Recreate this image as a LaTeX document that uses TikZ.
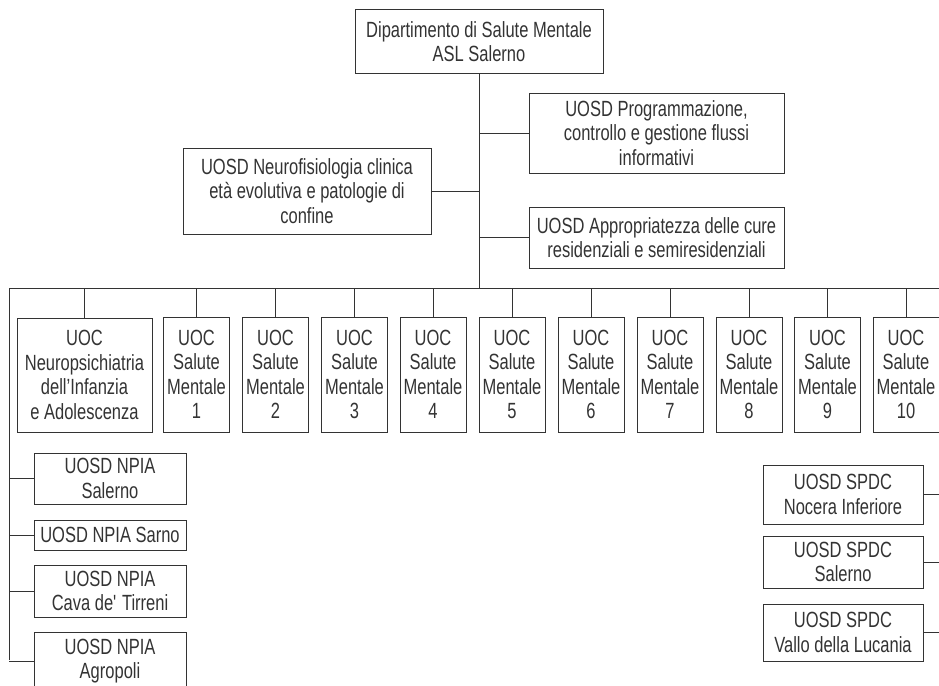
\documentclass[tikz,border=0pt]{standalone}
\usepackage{fontspec}
\setmainfont[FakeStretch=0.75]{Liberation Sans}
\usepackage{xcolor}
\usepackage{tikz}
\definecolor{ln}{HTML}{333333}

\begin{document}
\begin{tikzpicture}[x=1pt,y=-1pt]
\tikzstyle{every node}+=[inner sep=0pt]
\tikzstyle{box}=[draw=ln, line width=1pt, align=center, text=ln, font=\fontsize{22}{24.5}\selectfont]
\tikzstyle{smbox}=[box, minimum width=66, minimum height=115]
\useasboundingbox (0,0) rectangle (939,685);
\clip (0,0) rectangle (939,685);
\node [box, minimum width=248, minimum height=63] (dsm) at (479,41.5) {Dipartimento di Salute Mentale\\ASL Salerno};
\node [box, minimum width=255, minimum height=80] (prog) at (656.5,133) {UOSD Programmazione,\\controllo e gestione flussi\\informativi};
\node [box, minimum width=248, minimum height=86] (neuro) at (307,191) {UOSD Neurofisiologia clinica\\età evolutiva e patologie di\\confine};
\node [box, minimum width=255, minimum height=61] (appr) at (656.5,237.5) {UOSD Appropriatezza delle cure\\residenziali e semiresidenziali};
\coordinate (barL) at (9,288.5);
\coordinate (barR) at (950,288.5);
\coordinate (lvE) at (9,660);
\node [box, minimum width=135, minimum height=114] (npia) at (84.5,375) {UOC\\Neuropsichiatria\\dell’Infanzia\\e Adolescenza};
\node [smbox] (sm1) at (196.5,374.5) {UOC\\Salute\\Mentale\\1};
\node [smbox] (sm2) at (275.5,374.5) {UOC\\Salute\\Mentale\\2};
\node [smbox] (sm3) at (354.5,374.5) {UOC\\Salute\\Mentale\\3};
\node [smbox] (sm4) at (433,374.5) {UOC\\Salute\\Mentale\\4};
\node [smbox] (sm5) at (512,374.5) {UOC\\Salute\\Mentale\\5};
\node [smbox] (sm6) at (591,374.5) {UOC\\Salute\\Mentale\\6};
\node [smbox] (sm7) at (670,374.5) {UOC\\Salute\\Mentale\\7};
\node [smbox] (sm8) at (749,374.5) {UOC\\Salute\\Mentale\\8};
\node [smbox] (sm9) at (827.5,374.5) {UOC\\Salute\\Mentale\\9};
\node [smbox] (sm10) at (906,374.5) {UOC\\Salute\\Mentale\\10};
\node [box, minimum width=152, minimum height=51] (nsal) at (110,478.5) {UOSD NPIA\\Salerno};
\node [box, minimum width=152, minimum height=30] (nsar) at (110,535) {UOSD NPIA Sarno};
\node [box, minimum width=152, minimum height=52] (ncav) at (110,591) {UOSD NPIA\\Cava de\textquotesingle{} Tirreni};
\node [box, minimum width=152, minimum height=58] (nagr) at (110,661) {UOSD NPIA\\Agropoli};
\node [box, minimum width=160, minimum height=59] (snoc) at (843,494.5) {UOSD SPDC\\Nocera Inferiore};
\node [box, minimum width=160, minimum height=52] (ssal) at (843,562) {UOSD SPDC\\Salerno};
\node [box, minimum width=160, minimum height=57] (sval) at (843,632.5) {UOSD SPDC\\Vallo della Lucania};
\tikzstyle{conn}=[draw=ln, line width=1pt]
\draw [conn] (dsm.south) -- (dsm.south |- barL);
\draw [conn] (prog.west) -- (prog.west -| dsm.south);
\draw [conn] (neuro.east) -- (neuro.east -| dsm.south);
\draw [conn] (appr.west) -- (appr.west -| dsm.south);
\draw [conn] (lvE) -- (barL) -- (barR);
\draw [conn] (npia.north) -- (npia.north |- barL);
\draw [conn] (sm1.north) -- (sm1.north |- barL);
\draw [conn] (sm2.north) -- (sm2.north |- barL);
\draw [conn] (sm3.north) -- (sm3.north |- barL);
\draw [conn] (sm4.north) -- (sm4.north |- barL);
\draw [conn] (sm5.north) -- (sm5.north |- barL);
\draw [conn] (sm6.north) -- (sm6.north |- barL);
\draw [conn] (sm7.north) -- (sm7.north |- barL);
\draw [conn] (sm8.north) -- (sm8.north |- barL);
\draw [conn] (sm9.north) -- (sm9.north |- barL);
\draw [conn] (sm10.north) -- (sm10.north |- barL);
\draw [conn] (nsal.west) -- (nsal.west -| barL);
\draw [conn] (nsar.west) -- (nsar.west -| barL);
\draw [conn] (ncav.west) -- (ncav.west -| barL);
\draw [conn] (nagr.west) -- (nagr.west -| barL);
\draw [conn] (snoc.east) -- (snoc.east -| barR);
\draw [conn] (ssal.east) -- (ssal.east -| barR);
\draw [conn] (sval.east) -- (sval.east -| barR);
\end{tikzpicture}
\end{document}
